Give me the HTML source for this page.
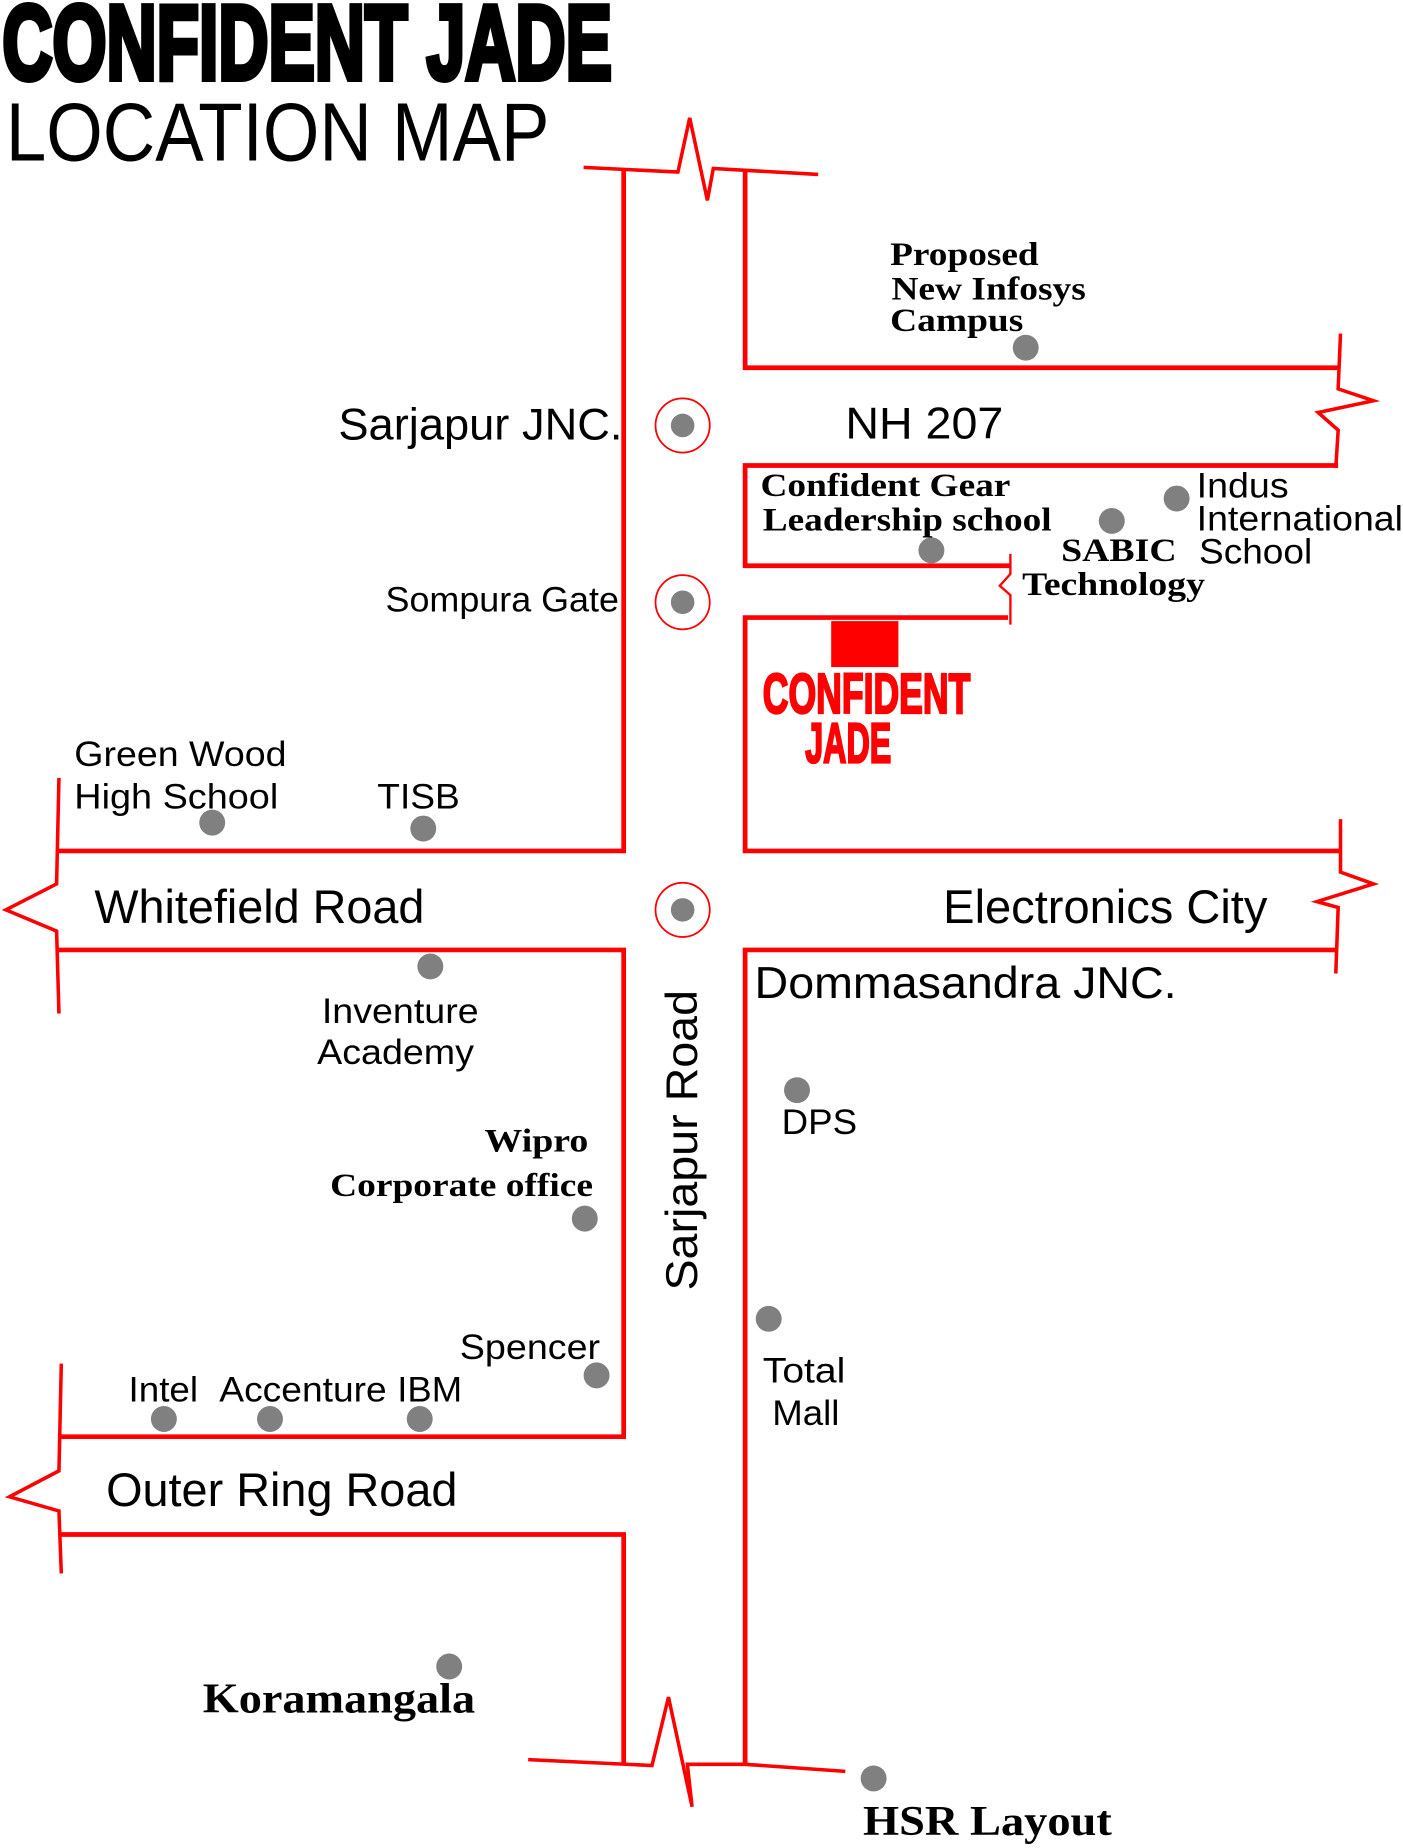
<!DOCTYPE html>
<html><head><meta charset="utf-8"><style>html,body{margin:0;padding:0;background:#fff}svg{display:block}</style></head>
<body>
<svg width="1403" height="1848" viewBox="0 0 1190 1568" preserveAspectRatio="none" xmlns="http://www.w3.org/2000/svg">
<g fill="none" stroke="#ff0000" stroke-width="4">
<polyline points="495,142 575,146 585,100 600,170 605,143 694,148" stroke-width="3"/>
<polyline points="529,143 529,722 48,722"/>
<polyline points="50,660 48,750 5,772 48,790 50,860" stroke-width="3"/>
<polyline points="48,806 529,806 529,1219 50,1219"/>
<polyline points="52,1157 50,1248 8,1270 50,1282 52,1335" stroke-width="3"/>
<polyline points="50,1302 529,1302 529,1497"/>
<polyline points="448,1493 553,1498 567,1440 587,1533 583,1497 632,1497 717,1503" stroke-width="3"/>
<polyline points="632,145 632,312 1135,312"/>
<polyline points="1137,283 1135,330 1165,340 1118,350 1135,365 1133,397" stroke-width="3"/>
<polyline points="1135,395 632,395 632,480 857,480"/>
<polyline points="857,470 857,487 848,497 857,505 857,530" stroke-width="2"/>
<polyline points="855,524 632,524 632,722 1137,722"/>
<polyline points="1137,695 1137,740 1165,750 1117,765 1135,770 1133,826" stroke-width="3"/>
<polyline points="1133,806 632,806 632,1497"/>
</g>
<g fill="none" stroke="#ff0000" stroke-width="1.5">
<circle cx="579" cy="361" r="23"/><circle cx="579" cy="511" r="23"/><circle cx="579" cy="772" r="23"/>
</g>
<g fill="#808080">
<circle cx="579" cy="361" r="10"/><circle cx="579" cy="511" r="10"/><circle cx="579" cy="772" r="10"/>
<circle cx="870" cy="295" r="11"/><circle cx="790" cy="467" r="11"/><circle cx="943" cy="442" r="11"/><circle cx="998" cy="423" r="11"/>
<circle cx="180" cy="698" r="11"/><circle cx="359" cy="703" r="11"/><circle cx="365" cy="820" r="11"/><circle cx="676" cy="925" r="11"/>
<circle cx="496" cy="1034" r="11"/><circle cx="652" cy="1119" r="11"/><circle cx="506" cy="1167" r="11"/><circle cx="139" cy="1204" r="11"/>
<circle cx="229" cy="1204" r="11"/><circle cx="356" cy="1204" r="11"/><circle cx="381" cy="1414" r="11"/><circle cx="741" cy="1509" r="11"/>
</g>
<rect x="705" y="527" width="57" height="39" fill="#ff0000"/>
<g font-family="Liberation Sans, sans-serif" fill="#000">
<text x="2" y="67" font-size="90" font-weight="bold" stroke="#000" stroke-width="5" textLength="517" lengthAdjust="spacingAndGlyphs">CONFIDENT JADE</text>
<text x="5" y="136" font-size="70" textLength="461" lengthAdjust="spacingAndGlyphs">LOCATION MAP</text>
<text x="647" y="605" font-size="48" font-weight="bold" fill="#ff0000" stroke="#ff0000" stroke-width="2" textLength="176" lengthAdjust="spacingAndGlyphs">CONFIDENT</text>
<text x="683" y="647" font-size="48" font-weight="bold" fill="#ff0000" stroke="#ff0000" stroke-width="2" textLength="73" lengthAdjust="spacingAndGlyphs">JADE</text>
<text x="287" y="373" font-size="38" textLength="241" lengthAdjust="spacingAndGlyphs">Sarjapur JNC.</text>
<text x="717" y="372" font-size="38" textLength="134" lengthAdjust="spacingAndGlyphs">NH 207</text>
<text x="1015" y="422" font-size="30" textLength="78" lengthAdjust="spacingAndGlyphs">Indus</text>
<text x="1015" y="450" font-size="30" textLength="175" lengthAdjust="spacingAndGlyphs">International</text>
<text x="1017" y="478" font-size="30" textLength="96" lengthAdjust="spacingAndGlyphs">School</text>
<text x="327" y="519" font-size="30" textLength="198" lengthAdjust="spacingAndGlyphs">Sompura Gate</text>
<text x="63" y="650" font-size="30" textLength="180" lengthAdjust="spacingAndGlyphs">Green Wood</text>
<text x="63" y="686" font-size="30" textLength="173" lengthAdjust="spacingAndGlyphs">High School</text>
<text x="320" y="686" font-size="30" textLength="70" lengthAdjust="spacingAndGlyphs">TISB</text>
<text x="80" y="783" font-size="40" textLength="280" lengthAdjust="spacingAndGlyphs">Whitefield Road</text>
<text x="800" y="783" font-size="40" textLength="275" lengthAdjust="spacingAndGlyphs">Electronics City</text>
<text x="640" y="847" font-size="38" textLength="358" lengthAdjust="spacingAndGlyphs">Dommasandra JNC.</text>
<text x="273" y="868" font-size="30" textLength="133" lengthAdjust="spacingAndGlyphs">Inventure</text>
<text x="269" y="903" font-size="30" textLength="133" lengthAdjust="spacingAndGlyphs">Academy</text>
<text transform="translate(591,1095) rotate(-90)" font-size="38" textLength="255" lengthAdjust="spacingAndGlyphs">Sarjapur Road</text>
<text x="663" y="962" font-size="30" textLength="64" lengthAdjust="spacingAndGlyphs">DPS</text>
<text x="647" y="1173" font-size="30" textLength="70" lengthAdjust="spacingAndGlyphs">Total</text>
<text x="655" y="1209" font-size="30" textLength="57" lengthAdjust="spacingAndGlyphs">Mall</text>
<text x="390" y="1153" font-size="30" textLength="119" lengthAdjust="spacingAndGlyphs">Spencer</text>
<text x="109" y="1189" font-size="30" textLength="59" lengthAdjust="spacingAndGlyphs">Intel</text>
<text x="186" y="1189" font-size="30" textLength="142" lengthAdjust="spacingAndGlyphs">Accenture</text>
<text x="337" y="1189" font-size="30" textLength="55" lengthAdjust="spacingAndGlyphs">IBM</text>
<text x="90" y="1278" font-size="40" textLength="298" lengthAdjust="spacingAndGlyphs">Outer Ring Road</text>
</g>
<g font-family="Liberation Serif, serif" font-weight="bold" fill="#000">
<text x="755" y="225" font-size="28" textLength="126" lengthAdjust="spacingAndGlyphs">Proposed</text>
<text x="756" y="254" font-size="28" textLength="165" lengthAdjust="spacingAndGlyphs">New Infosys</text>
<text x="755" y="281" font-size="28" textLength="113" lengthAdjust="spacingAndGlyphs">Campus</text>
<text x="645" y="421" font-size="28" textLength="212" lengthAdjust="spacingAndGlyphs">Confident Gear</text>
<text x="647" y="450" font-size="28" textLength="245" lengthAdjust="spacingAndGlyphs">Leadership school</text>
<text x="900" y="476" font-size="28" textLength="98" lengthAdjust="spacingAndGlyphs">SABIC</text>
<text x="867" y="505" font-size="28" textLength="155" lengthAdjust="spacingAndGlyphs">Technology</text>
<text x="411" y="977" font-size="28" textLength="88" lengthAdjust="spacingAndGlyphs">Wipro</text>
<text x="280" y="1015" font-size="28" textLength="223" lengthAdjust="spacingAndGlyphs">Corporate office</text>
<text x="172" y="1453" font-size="36" textLength="231" lengthAdjust="spacingAndGlyphs">Koramangala</text>
<text x="732" y="1557" font-size="36" textLength="211" lengthAdjust="spacingAndGlyphs">HSR Layout</text>
</g>
</svg>
</body></html>
